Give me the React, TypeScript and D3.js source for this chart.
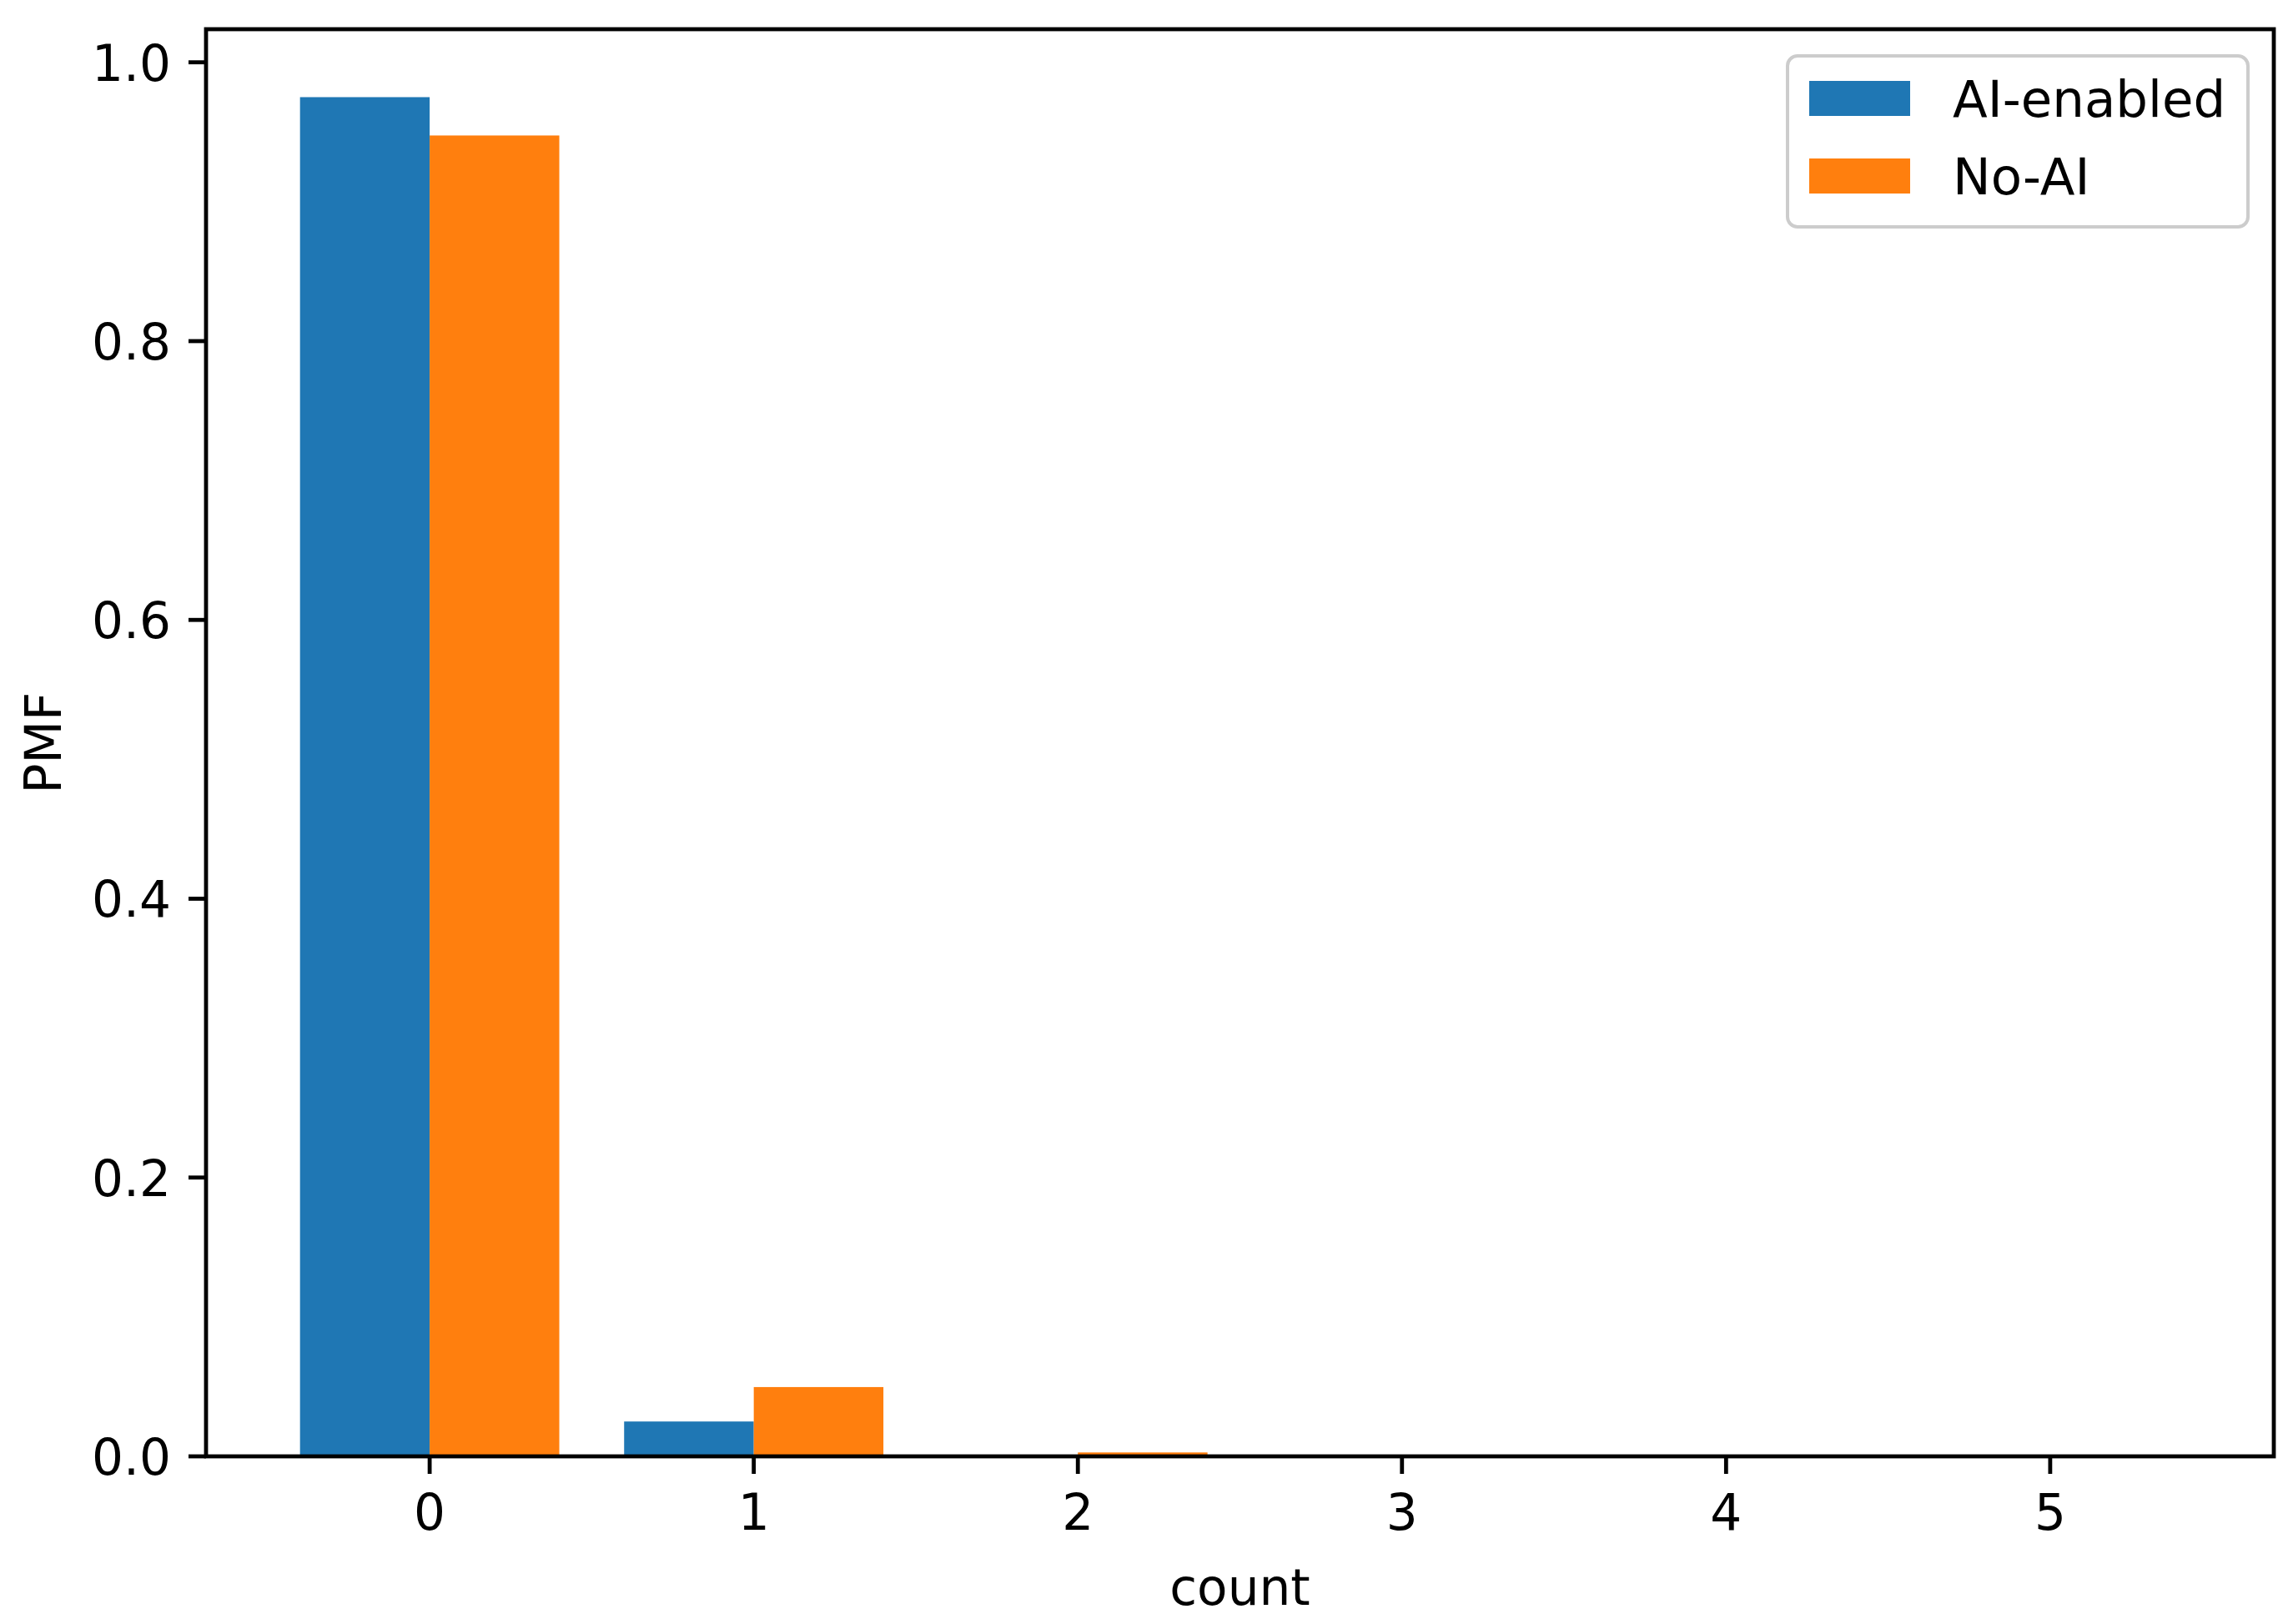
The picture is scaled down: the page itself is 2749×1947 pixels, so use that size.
import React from "react";
import * as d3 from "d3";

const counts = [0, 1, 2, 3, 4, 5];
const aiEnabled = [0.975, 0.025, 0.0, 0.0, 0.0, 0.0];
const noAI = [0.9475, 0.0497, 0.0028, 0.0, 0.0, 0.0];
const yTicks = [0.0, 0.2, 0.4, 0.6, 0.8, 1.0];
const seriesNames = ["AI-enabled", "No-AI"];
const seriesColors = ["#1f77b4", "#ff7f0e"];

const W = 2749;
const H = 1947;
const L = 247;
const R = 2726;
const T = 35;
const B = 1746;
const FS = 59.7;
const LW = 4.8;
const TICK = 21;
const FONT = "'DejaVu Sans', sans-serif";

export default function App() {
  const barW = 0.4;
  const xmin = counts[0] - barW;
  const xmax = counts[counts.length - 1] + barW;
  const pad = (xmax - xmin) * 0.05;
  const x = d3.scaleLinear().domain([xmin - pad, xmax + pad]).range([L, R]);
  const ymax = Math.max(...aiEnabled, ...noAI) * 1.05;
  const y = d3.scaleLinear().domain([0, ymax]).range([B, T]);

  const series = [aiEnabled, noAI];

  return (
    <svg
      width={W}
      height={H}
      style={{ position: "absolute", left: 0, top: 0, background: "#fff" }}
      fontFamily={FONT}
    >
      <rect x={0} y={0} width={W} height={H} fill="#fff" />
      {series.map((vals, si) =>
        vals.map((v, i) => {
          const x0 = si === 0 ? counts[i] - barW : counts[i];
          const x1 = x0 + barW;
          return (
            <rect
              key={`b${si}-${i}`}
              x={x(x0)}
              y={y(v)}
              width={x(x1) - x(x0)}
              height={B - y(v)}
              fill={seriesColors[si]}
            />
          );
        })
      )}
      {/* axes frame */}
      <rect x={L} y={T} width={R - L} height={B - T} fill="none" stroke="#000" strokeWidth={LW} />
      {/* y ticks */}
      {yTicks.map((t) => (
        <g key={`yt${t}`}>
          <line x1={L - TICK} x2={L} y1={y(t)} y2={y(t)} stroke="#000" strokeWidth={LW} />
          <text x={L - TICK - 21} y={y(t) + 22} textAnchor="end" fontSize={FS} fill="#000">
            {t.toFixed(1)}
          </text>
        </g>
      ))}
      {/* x ticks */}
      {counts.map((c) => (
        <g key={`xt${c}`}>
          <line x1={x(c)} x2={x(c)} y1={B} y2={B + TICK} stroke="#000" strokeWidth={LW} />
          <text x={x(c)} y={1834} textAnchor="middle" fontSize={FS} fill="#000">
            {String(c)}
          </text>
        </g>
      ))}
      {/* axis labels */}
      <text
        x={(L + R) / 2}
        y={1924}
        textAnchor="middle"
        fontSize={FS}
        fill="#000"
      >
        count
      </text>
      <text
        transform={`translate(73, ${(T + B) / 2}) rotate(-90)`}
        textAnchor="middle"
        fontSize={FS}
        fill="#000"
      >
        PMF
      </text>
      {/* legend */}
      <g>
        <rect
          x={2143}
          y={67}
          width={552}
          height={205}
          rx={12}
          ry={12}
          fill="#fff"
          fillOpacity={0.8}
          stroke="#cccccc"
          strokeWidth={4}
        />
        {seriesNames.map((name, i) => {
          const cy = 118 + i * 93;
          return (
            <g key={name}>
              <rect x={2169} y={cy - 21} width={121} height={42} fill={seriesColors[i]} />
              <text x={2341} y={cy + 22} fontSize={61} fill="#000">
                {name}
              </text>
            </g>
          );
        })}
      </g>
    </svg>
  );
}
